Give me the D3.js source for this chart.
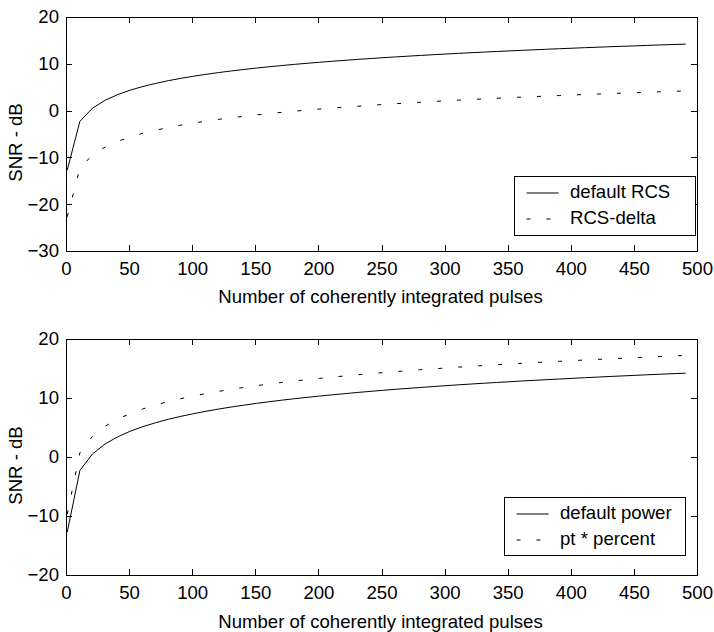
<!DOCTYPE html>
<html>
<head>
<meta charset="utf-8">
<script src="https://cdn.jsdelivr.net/npm/d3@7"></script>
<style>
  html, body { margin: 0; padding: 0; background: #fff; }
  svg { display: block; }
  text { font-family: "Liberation Sans", Arial, Helvetica, sans-serif; font-size: 18.6px; fill: #000; }
</style>
</head>
<body>
<svg id="fig" width="714" height="632"></svg>
<script>
// Number of coherently integrated pulses (1:10:491)
const pulses = [1, 11, 21, 31, 41, 51, 61, 71, 81, 91, 101, 111, 121, 131, 141, 151, 161, 171, 181, 191,
  201, 211, 221, 231, 241, 251, 261, 271, 281, 291, 301, 311, 321, 331, 341, 351, 361, 371, 381, 391,
  401, 411, 421, 431, 441, 451, 461, 471, 481, 491];

// SNR (dB), default radar settings
const defaultRCS = [-12.70, -2.29, 0.52, 2.21, 3.43, 4.38, 5.15, 5.81, 6.39, 6.89, 7.34, 7.75, 8.13, 8.47, 8.79,
  9.09, 9.37, 9.63, 9.88, 10.11, 10.33, 10.54, 10.74, 10.94, 11.12, 11.30, 11.47, 11.63, 11.79, 11.94,
  12.09, 12.23, 12.37, 12.50, 12.63, 12.75, 12.88, 12.99, 13.11, 13.22, 13.33, 13.44, 13.54, 13.65, 13.74,
  13.84, 13.94, 14.03, 14.12, 14.21];

// SNR (dB) with reduced RCS
const rcsDelta = [-22.70, -12.29, -9.48, -7.79, -6.57, -5.62, -4.85, -4.19, -3.61, -3.11, -2.66, -2.25, -1.87,
  -1.53, -1.21, -0.91, -0.63, -0.37, -0.12, 0.11, 0.33, 0.54, 0.74, 0.94, 1.12, 1.30, 1.47, 1.63, 1.79,
  1.94, 2.09, 2.23, 2.37, 2.50, 2.63, 2.75, 2.88, 2.99, 3.11, 3.22, 3.33, 3.44, 3.54, 3.65, 3.74, 3.84,
  3.94, 4.03, 4.12, 4.21];

// SNR (dB), default peak power
const defaultPower = [-12.70, -2.29, 0.52, 2.21, 3.43, 4.38, 5.15, 5.81, 6.39, 6.89, 7.34, 7.75, 8.13, 8.47, 8.79,
  9.09, 9.37, 9.63, 9.88, 10.11, 10.33, 10.54, 10.74, 10.94, 11.12, 11.30, 11.47, 11.63, 11.79, 11.94,
  12.09, 12.23, 12.37, 12.50, 12.63, 12.75, 12.88, 12.99, 13.11, 13.22, 13.33, 13.44, 13.54, 13.65, 13.74,
  13.84, 13.94, 14.03, 14.12, 14.21];

// SNR (dB) with scaled peak power
const ptPercent = [-9.70, 0.71, 3.52, 5.21, 6.43, 7.38, 8.15, 8.81, 9.39, 9.89, 10.34, 10.75, 11.13, 11.47, 11.79,
  12.09, 12.37, 12.63, 12.88, 13.11, 13.33, 13.54, 13.74, 13.94, 14.12, 14.30, 14.47, 14.63, 14.79, 14.94,
  15.09, 15.23, 15.37, 15.50, 15.63, 15.75, 15.88, 15.99, 16.11, 16.22, 16.33, 16.44, 16.54, 16.65, 16.74,
  16.84, 16.94, 17.03, 17.12, 17.21];

const xTicks = [0, 50, 100, 150, 200, 250, 300, 350, 400, 450, 500];
const yTicksTop = [-30, -20, -10, 0, 10, 20];
const yTicksBottom = [-20, -10, 0, 10, 20];
const xLabel = "Number of coherently integrated pulses";
const yLabel = "SNR - dB";

const svg = d3.select("#fig");
const FS = 18.6;

const panels = [
  {
    top: 17, bottom: 251, yDomain: [-30, 20], yTicks: yTicksTop,
    series: [
      { name: "default RCS", values: defaultRCS, dash: null },
      { name: "RCS-delta", values: rcsDelta, dash: "4,16" }
    ],
    legend: { x: 514, y: 176, w: 181, h: 59 },
    yLabelY: 142.5, xLabelY: 303
  },
  {
    top: 339, bottom: 575, yDomain: [-20, 20], yTicks: yTicksBottom,
    series: [
      { name: "default power", values: defaultPower, dash: null },
      { name: "pt * percent", values: ptPercent, dash: "4,16" }
    ],
    legend: { x: 504, y: 497, w: 181, h: 58 },
    yLabelY: 465.5, xLabelY: 628
  }
];

const left = 66, right = 697;

panels.forEach(p => {
  const x = d3.scaleLinear().domain([0, 500]).range([left, right]);
  const y = d3.scaleLinear().domain(p.yDomain).range([p.bottom, p.top]);
  const g = svg.append("g");

  // curves
  p.series.forEach(s => {
    const line = d3.line().x((d, i) => x(pulses[i])).y(d => y(d));
    g.append("path")
      .datum(s.values)
      .attr("d", line)
      .attr("fill", "none")
      .attr("stroke", "#000")
      .attr("stroke-width", 1)
      .attr("stroke-dasharray", s.dash);
  });

  // axes with inward ticks on all four sides
  const tick = 6;
  const ax = (axis, tr) => {
    const a = g.append("g").attr("transform", tr).call(axis);
    a.selectAll("path.domain").attr("stroke", "#000").attr("shape-rendering", "crispEdges");
    a.selectAll("line").attr("stroke", "#000").attr("shape-rendering", "crispEdges");
    a.selectAll("text").attr("font-size", FS).attr("font-family", null).attr("fill", "#000");
    return a;
  };
  ax(d3.axisBottom(x).tickValues(xTicks).tickFormat(d3.format("d")).tickSizeInner(-tick).tickSizeOuter(0).tickPadding(10.5),
     `translate(0,${p.bottom})`);
  ax(d3.axisTop(x).tickValues(xTicks).tickFormat("").tickSizeInner(-tick).tickSizeOuter(0),
     `translate(0,${p.top})`);
  ax(d3.axisLeft(y).tickValues(p.yTicks).tickFormat(d3.format("d")).tickSizeInner(-tick).tickSizeOuter(0).tickPadding(7),
     `translate(${left},0)`);
  ax(d3.axisRight(y).tickValues(p.yTicks).tickFormat("").tickSizeInner(-tick).tickSizeOuter(0),
     `translate(${right},0)`);

  // axis titles
  g.append("text")
    .attr("x", (left + right) / 2 - 1)
    .attr("y", p.xLabelY)
    .attr("text-anchor", "middle")
    .text(xLabel);
  g.append("text")
    .attr("transform", `translate(21.5,${p.yLabelY}) rotate(-90)`)
    .attr("text-anchor", "middle")
    .text(yLabel);

  // legend
  const L = p.legend;
  const lg = g.append("g");
  lg.append("rect")
    .attr("x", L.x + 0.5).attr("y", L.y + 0.5)
    .attr("width", L.w).attr("height", L.h)
    .attr("fill", "#fff").attr("stroke", "#000").attr("stroke-width", 1)
    .attr("shape-rendering", "crispEdges");
  p.series.forEach((s, i) => {
    const ly = L.y + 17 + i * 26;
    lg.append("line")
      .attr("x1", L.x + 12.5).attr("x2", L.x + 44.5)
      .attr("y1", ly).attr("y2", ly)
      .attr("stroke", "#000").attr("stroke-width", 1)
      .attr("stroke-dasharray", s.dash);
    lg.append("text")
      .attr("x", L.x + 56)
      .attr("y", ly + 4.5)
      .text(s.name);
  });
});
</script>
</body>
</html>
